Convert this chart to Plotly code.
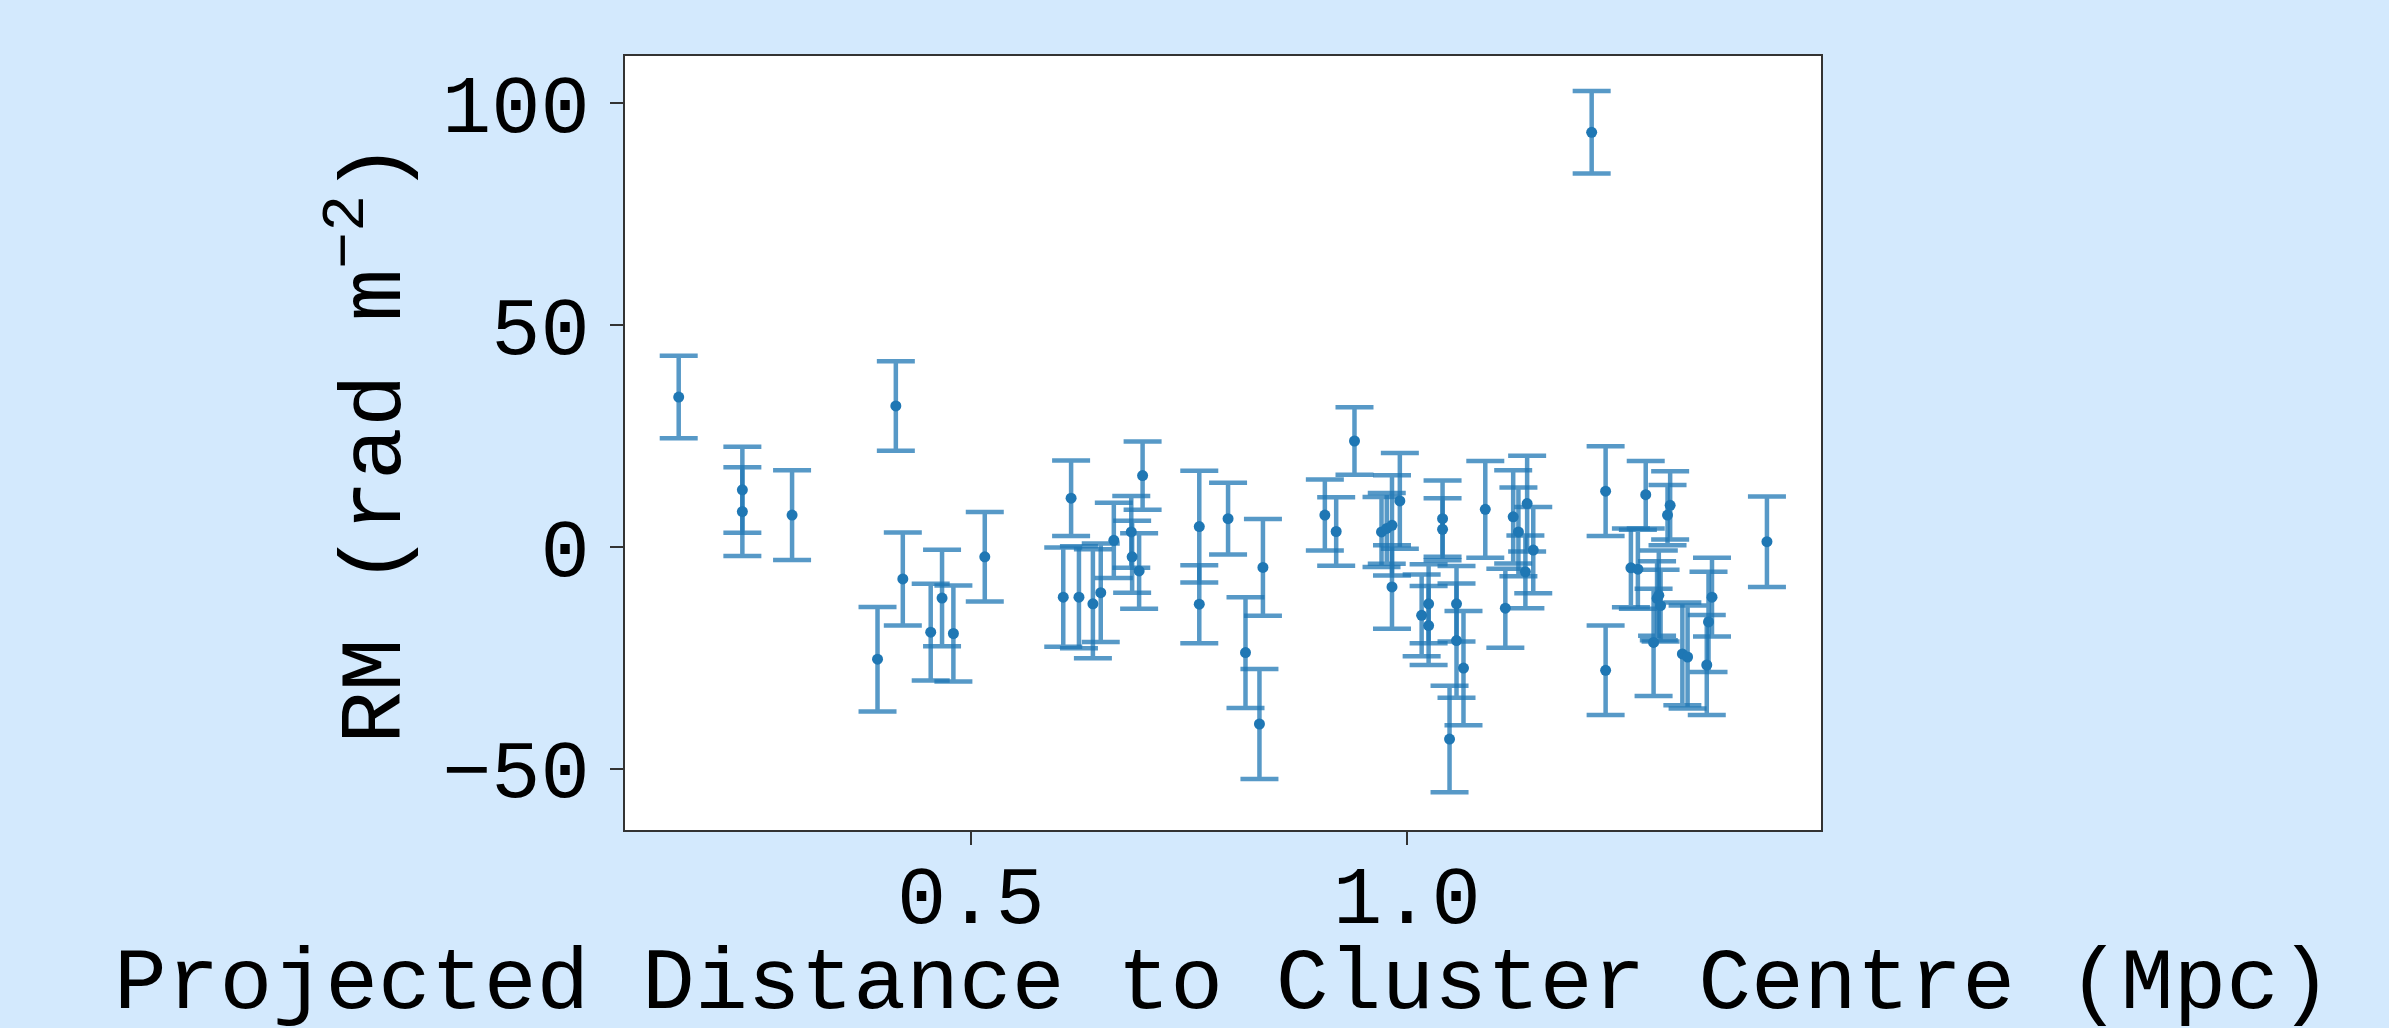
import plotly.graph_objects as go

# Projected distance (Mpc)
distance = [0.165, 0.238, 0.238, 0.295, 0.393, 0.414, 0.422, 0.454, 0.467, 0.480,
            0.516, 0.606, 0.615, 0.624, 0.640, 0.649, 0.664, 0.684, 0.685, 0.693,
            0.697, 0.762, 0.762, 0.795, 0.815, 0.831, 0.835, 0.906, 0.919, 0.940,
            0.971, 0.977, 0.983, 0.983, 0.992, 1.017, 1.025, 1.025, 1.041, 1.041,
            1.049, 1.057, 1.057, 1.065, 1.090, 1.113, 1.122, 1.128, 1.136, 1.138,
            1.145, 1.212, 1.228, 1.228, 1.257, 1.265, 1.274, 1.283, 1.287, 1.289,
            1.291, 1.299, 1.302, 1.316, 1.322, 1.344, 1.346, 1.350, 1.413]
# Rotation measure (rad m^-2)
rm = [33.8, 12.9, 8.0, 7.2, -25.3, 31.8, -7.2, -19.2, -11.5, -19.5,
      -2.2, -11.3, 11.0, -11.3, -12.8, -10.3, 1.5, 3.4, -2.2, -5.4,
      16.1, 4.6, -12.9, 6.4, -23.8, -39.9, -4.6, 7.2, 3.5, 23.9,
      3.4, 4.2, 4.9, -9.0, 10.4, -15.4, -12.8, -17.7, 6.4, 4.0,
      -43.3, -12.8, -21.1, -27.3, 8.5, -13.8, 6.8, 3.4, -5.6, 9.8,
      -0.7, 93.5, 12.6, -27.8, -4.7, -5.0, 11.8, -21.5, -11.6, -10.9,
      -13.2, 7.2, 9.4, -24.1, -24.8, -26.6, -16.9, -11.3, 1.2]
# RM uncertainty
rm_err = [9.3, 9.7, 10.0, 10.1, 11.8, 10.1, 10.5, 10.9, 10.9, 10.8,
          10.1, 11.2, 8.5, 11.5, 12.3, 11.1, 8.5, 8.1, 8.1, 8.5,
          7.7, 12.6, 8.8, 8.1, 12.5, 12.4, 10.9, 8.0, 7.7, 7.6,
          7.9, 8.0, 11.3, 9.4, 10.8, 9.2, 8.9, 8.9, 8.6, 7.0,
          12.0, 8.5, 12.9, 12.9, 10.9, 8.9, 10.5, 10.0, 8.2, 10.8,
          9.7, 9.3, 10.1, 10.1, 8.9, 8.9, 7.6, 12.1, 8.4, 10.1,
          8.1, 6.8, 7.7, 11.6, 11.6, 11.3, 11.3, 8.9, 10.2]

x_ticks = [0.5, 1.0]
x_tick_labels = ["0.5", "1.0"]
y_ticks = [-50, 0, 50, 100]
y_tick_labels = ["\u221250", "0", "50", "100"]
x_title = "Projected Distance to Cluster Centre (Mpc)"
y_title = "RM (rad m<sup>\u22122</sup>)"

FONT = "Liberation Mono, Courier New, monospace"

fig = go.Figure()
fig.add_trace(go.Scatter(
    x=distance, y=rm, mode="markers",
    marker=dict(color="#1f77b4", size=11),
    error_y=dict(type="data", array=rm_err, visible=True,
                 color="rgba(31,119,180,0.75)", thickness=4.5, width=19),
    showlegend=False,
))

fig.update_layout(
    width=2389, height=1028, autosize=False,
    margin=dict(l=625, r=568, t=56, b=198, autoexpand=False),
    paper_bgcolor="#d3e9fd", plot_bgcolor="white",
    font=dict(family=FONT, size=82, color="black"),
)
fig.update_xaxes(
    range=[0.1034, 1.475], tickvals=x_ticks, ticktext=x_tick_labels,
    automargin=False,
    showgrid=False, zeroline=False, showline=True, mirror=True,
    linecolor="#333333", linewidth=2, ticks="outside", ticklen=13,
    tickwidth=2, tickcolor="#333333", ticklabelstandoff=-20,
    tickfont=dict(family=FONT, size=82),
)
fig.update_yaxes(
    range=[-63.8, 110.7], tickvals=y_ticks, ticktext=y_tick_labels,
    automargin=False,
    showgrid=False, zeroline=False, showline=True, mirror=True,
    linecolor="#333333", linewidth=2, ticks="outside", ticklen=13,
    tickwidth=2, tickcolor="#333333", ticklabelstandoff=4,
    tickfont=dict(family=FONT, size=82),
)
fig.add_annotation(
    text=x_title, xref="paper", yref="paper", x=0.5, y=-0.199,
    xanchor="center", yanchor="middle", showarrow=False,
    font=dict(family=FONT, size=88, color="black"),
)
fig.add_annotation(
    text=y_title, xref="paper", yref="paper", x=-0.2141, y=0.5,
    xanchor="center", yanchor="middle", textangle=-90, showarrow=False,
    font=dict(family=FONT, size=88, color="black"),
)

fig.write_html(
    "out.html",
    config={"displayModeBar": False},
    post_script="document.body.style.margin='0';document.body.style.overflow='hidden';",
)
